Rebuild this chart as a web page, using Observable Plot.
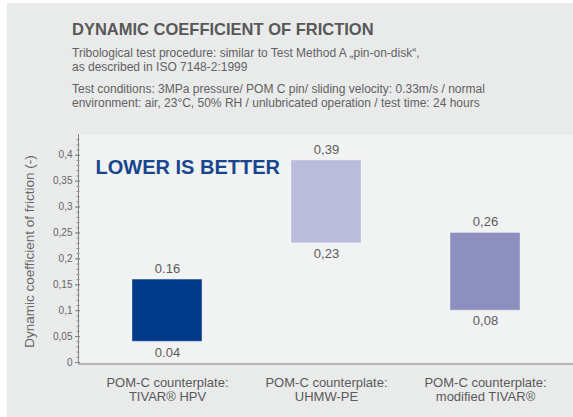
<!DOCTYPE html>
<html>
<head>
<meta charset="utf-8">
<script src="https://cdn.jsdelivr.net/npm/d3@7"></script>
<script src="https://cdn.jsdelivr.net/npm/@observablehq/plot@0.6"></script>
<style>
  html, body { margin: 0; padding: 0; background: #ffffff; }
  body { width: 573px; height: 417px; position: relative; overflow: hidden; font-family: "Liberation Sans", Arial, sans-serif; }
  #panel { position: absolute; left: 7px; top: 3px; width: 566px; height: 414px; background: #e9eaea; }
  .t { position: absolute; left: 72px; white-space: nowrap; }
  #title { top: 21px; font-size: 16.5px; line-height: 16.5px; font-weight: bold; color: #585858; }
  .sub { font-size: 12px; line-height: 14px; color: #626262; }
  #sub1 { top: 46px; }
  #sub2 { top: 82px; }
  #chart { position: absolute; left: 0; top: 120px; }
</style>
</head>
<body>
<div id="panel"></div>
<div class="t" id="title">DYNAMIC COEFFICIENT OF FRICTION</div>
<div class="t sub" id="sub1">Tribological test procedure: similar to Test Method A „pin-on-disk“,<br>as described in ISO 7148-2:1999</div>
<div class="t sub" id="sub2">Test conditions: 3MPa pressure/ POM C pin/ sliding velocity: 0.33m/s / normal<br>environment: air, 23°C, 50% RH / unlubricated operation / test time: 24 hours</div>
<div id="chart"></div>
<script>
const categories = [
  "POM-C counterplate:\nTIVAR® HPV",
  "POM-C counterplate:\nUHMW-PE",
  "POM-C counterplate:\nmodified TIVAR®"
];
const lowValues = [0.04, 0.23, 0.10];
const highValues = [0.16, 0.39, 0.25];
const lowLabels = ["0.04", "0,23", "0,08"];
const highLabels = ["0.16", "0,39", "0,26"];
const barColors = ["#003a88", "#bbbcdb", "#8d90bf"];
const yTicks = [0, 0.05, 0.1, 0.15, 0.2, 0.25, 0.3, 0.35, 0.4];
const yTickLabels = ["0", "0,05", "0,1", "0,15", "0,2", "0,25", "0,3", "0,35", "0,4"];
const yMinorTicks = d3.range(0, 44).map(i => i / 100);
const yAxisTitle = "Dynamic coefficient of friction (-)";
const note = "LOWER IS BETTER";

const data = categories.map((c, i) => ({
  c, lo: lowValues[i], hi: highValues[i],
  loL: lowLabels[i], hiL: highLabels[i], color: barColors[i]
}));

const chart = Plot.plot({
  width: 573,
  height: 297,
  marginLeft: 78,
  marginRight: 0,
  marginTop: 14,
  marginBottom: 55,
  style: { background: "transparent", fontFamily: "'Liberation Sans', Arial, sans-serif", color: "#666", overflow: "visible" },
  x: { domain: categories, paddingInner: 0.56, paddingOuter: 0.33, align: 0.5 },
  y: { domain: [0, 0.44] },
  color: { type: "identity" },
  marks: [
    Plot.frame({ fill: "#f1f2f2", stroke: null }),
    Plot.ruleY([0], { stroke: "#808080", dy: 1.5 }),
    Plot.frame({ anchor: "left", stroke: "#808080" }),
    Plot.axisY({ ticks: yMinorTicks, tickSize: 3, dx: 1.5, text: null, stroke: "#909090", label: null }),
    Plot.axisY({ ticks: yTicks, tickSize: 5, dx: 2, tickPadding: 3, stroke: "#808080",
      tickFormat: d => yTickLabels[yTicks.indexOf(d)], fontSize: 10, fill: "#666", label: null }),
    Plot.axisX({ tickSize: 0, tickPadding: 15, fontSize: 13, lineHeight: 1.06, label: null, fill: "#5a5a5a" }),
    Plot.barY(data, { x: "c", y1: "lo", y2: "hi", fill: "color", stroke: "#ffffff", strokeOpacity: 0.35, strokeWidth: 1 }),
    Plot.text(data, { x: "c", y: "hi", text: "hiL", lineAnchor: "bottom", dy: -6.5, fontSize: 13, fill: "#5a5a5a" }),
    Plot.text(data, { x: "c", y: "lo", text: "loL", lineAnchor: "top", dy: 5.5, fontSize: 13, fill: "#5a5a5a" }),
    Plot.text([note], { frameAnchor: "top-left", textAnchor: "start", lineAnchor: "bottom", dx: 17, dy: 39,
      fontSize: 20, fontWeight: "bold", fill: "#17468f" }),
    Plot.text([yAxisTitle], { frameAnchor: "left", textAnchor: "middle", lineAnchor: "middle", rotate: -90,
      dx: -49, dy: 3, fontSize: 13.5, fill: "#666" })
  ]
});
document.getElementById("chart").appendChild(chart);
</script>
</body>
</html>
